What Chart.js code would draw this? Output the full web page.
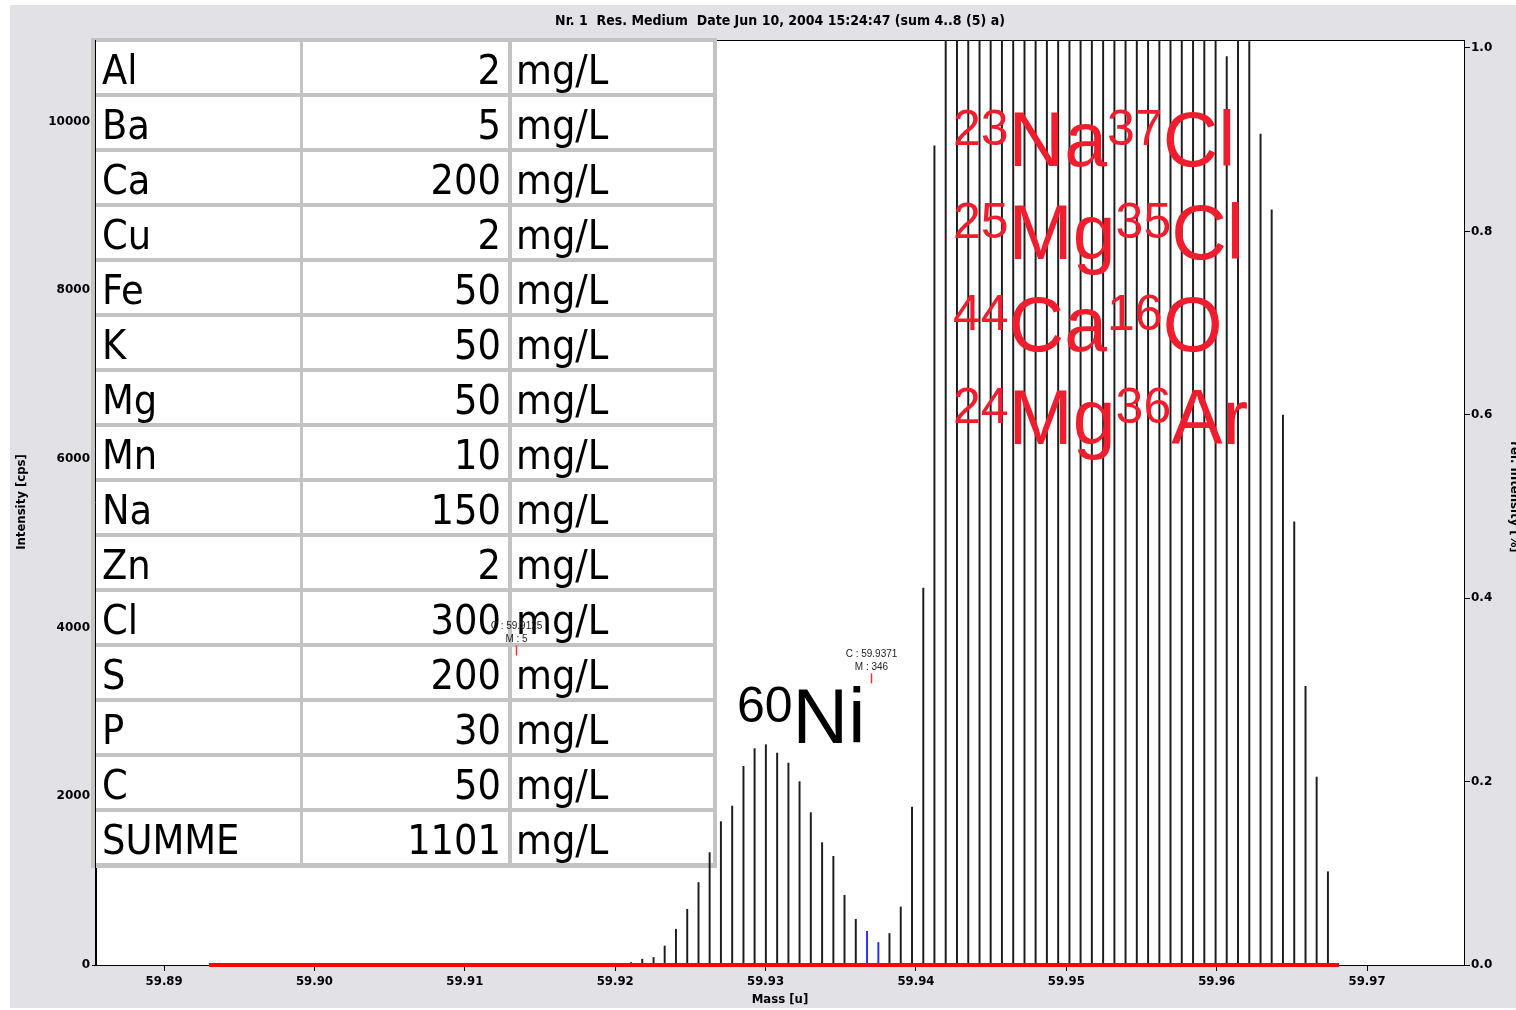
<!DOCTYPE html>
<html>
<head>
<meta charset="utf-8">
<script src="https://cdn.jsdelivr.net/npm/chart.js@4.4.1/dist/chart.umd.min.js"></script>
<style>
  html, body { margin: 0; padding: 0; background: #fff; }
  #chart { display: block; }
</style>
</head>
<body>
<canvas id="chart" width="1516" height="1010"></canvas>
<script>
// stick positions [u] and intensities [cps]
const masses = [
  59.92105, 59.92180, 59.92255, 59.92329, 59.92404, 59.92479, 59.92554, 59.92628, 59.92703, 59.92778,
  59.92853, 59.92927, 59.93002, 59.93077, 59.93152, 59.93226, 59.93301, 59.93376, 59.93451, 59.93525,
  59.93600, 59.93675, 59.93750, 59.93824, 59.93899, 59.93974, 59.94049, 59.94123, 59.94198, 59.94273,
  59.94348, 59.94423, 59.94497, 59.94572, 59.94647, 59.94722, 59.94796, 59.94871, 59.94946, 59.95021,
  59.95095, 59.95170, 59.95245, 59.95320, 59.95394, 59.95469, 59.95544, 59.95619, 59.95693, 59.95768,
  59.95843, 59.95918, 59.95993, 59.96067, 59.96142, 59.96217, 59.96292, 59.96366, 59.96441, 59.96516,
  59.96591, 59.96665, 59.96740
];
const intensities = [
  30, 69, 89, 226, 424, 661, 978, 1333, 1700, 1885,
  2356, 2566, 2613, 2513, 2395, 2174, 1807, 1451, 1289, 827,
  542, 400, 267, 373, 688, 1873, 4470, 9715, 12500, 14000,
  15500, 16800, 18000, 19000, 19800, 20400, 20800, 21000, 21000, 20800,
  20400, 19800, 19000, 18000, 17000, 16000, 15000, 14000, 13200, 12500,
  12000, 11600, 11300, 10773, 11100, 10950, 9853, 8956, 6520, 5255,
  3304, 2229, 1106
];
// sticks drawn in blue (centroid window)
const blueSticks = [21, 22];

// red integration range on the baseline
const rangeStart = 59.89299;
const rangeEnd = 59.96814;

// peak markers
const markerMass = [59.9134, 59.9370];
const markerIntensity = [3670, 3340];
const markerLines = [["C : 59.9125", "M : 5"], ["C : 59.9371", "M : 346"]];

// axes
const xTicks = [59.89, 59.90, 59.91, 59.92, 59.93, 59.94, 59.95, 59.96, 59.97];
const yTicks = [0, 2000, 4000, 6000, 8000, 10000];
const relTicks = [0, 0.2, 0.4, 0.6, 0.8, 1.0];
const xMin = 59.88547, xMax = 59.97645;
const yMax = 10969, relMax = 1.0087;

// concentration table
const elements = ["Al", "Ba", "Ca", "Cu", "Fe", "K", "Mg", "Mn", "Na", "Zn", "Cl", "S", "P", "C", "SUMME"];
const concentrations = ["2", "5", "200", "2", "50", "50", "50", "10", "150", "2", "300", "200", "30", "50", "1101"];
const unit = "mg/L";

// interferences: [mass number, symbol, mass number, symbol]
const interferences = [
  ["23", "Na", "37", "Cl"],
  ["25", "Mg", "35", "Cl"],
  ["44", "Ca", "16", "O"],
  ["24", "Mg", "36", "Ar"]
];

const NARROW = '"Liberation Sans Narrow", "Arial Narrow", "DejaVu Sans Condensed", sans-serif';
const WIDE = '"DejaVu Sans", Verdana, sans-serif';
const ARIAL = '"Liberation Sans", Arial, sans-serif';
const TABLE_FONT = '"DejaVu Sans Condensed", Tahoma, "Noto Sans", sans-serif';

function drawIsotope(ctx, x, y, parts, color) {
  ctx.fillStyle = color;
  ctx.textAlign = "left";
  ctx.textBaseline = "alphabetic";
  parts.forEach((p, i) => {
    if (i % 2 === 0) {
      ctx.font = "50px " + ARIAL;
      ctx.fillText(p, x, y - 21);
    } else {
      ctx.font = "77px " + ARIAL;
      ctx.fillText(p, x, y);
    }
    x += ctx.measureText(p).width;
  });
}

const decor = {
  id: "decor",
  beforeDraw(chart) {
    const { ctx, chartArea: a } = chart;
    ctx.save();
    ctx.fillStyle = "#fff";
    ctx.fillRect(0, 0, chart.width, chart.height);
    ctx.fillStyle = "#e1e1e6";
    ctx.fillRect(10, 5, chart.width - 10, 1003);
    ctx.fillStyle = "#fff";
    ctx.fillRect(a.left, a.top, a.right - a.left, a.bottom - a.top);
    ctx.strokeStyle = "#000";
    ctx.lineWidth = 1;
    ctx.beginPath();
    ctx.moveTo(a.left, a.top + 0.5);
    ctx.lineTo(a.right, a.top + 0.5);
    ctx.stroke();
    ctx.restore();
  },
  beforeDatasetsDraw(chart) {
    const { ctx, chartArea: a } = chart;
    ctx.save();
    // table
    const left = 91, top = 38, pitch = 55;
    const cols = [[96, 300], [303, 508], [512, 713]];
    ctx.fillStyle = "#c3c3c3";
    ctx.fillRect(left, top, 717 - left, pitch * elements.length + 5);
    ctx.font = "41px " + TABLE_FONT;
    ctx.textBaseline = "alphabetic";
    elements.forEach((el, i) => {
      const y0 = top + 4 + pitch * i;
      ctx.fillStyle = "#fff";
      cols.forEach(c => ctx.fillRect(c[0], y0, c[1] - c[0], 51));
      ctx.fillStyle = "#000";
      ctx.textAlign = "left";
      ctx.fillText(el, 102, y0 + 42);
      ctx.textAlign = "right";
      ctx.fillText(concentrations[i], 501, y0 + 42);
      ctx.textAlign = "left";
      ctx.fillText(unit, 516, y0 + 42);
    });
    // left axis line stays visible over the table
    ctx.strokeStyle = "#000";
    ctx.lineWidth = 1;
    ctx.beginPath();
    ctx.moveTo(a.left - 0.5, a.top);
    ctx.lineTo(a.left - 0.5, a.bottom);
    ctx.stroke();
    ctx.restore();
  },
  afterDatasetsDraw(chart) {
    const { ctx } = chart;
    const xs = chart.scales.x, ys = chart.scales.y;
    ctx.save();
    interferences.forEach((parts, i) => drawIsotope(ctx, 953, 166 + 92.7 * i, parts, "#ef1d2d"));
    drawIsotope(ctx, 737, 743, ["60", "Ni"], "#000");

    markerMass.forEach((m, i) => {
      const px = Math.round(xs.getPixelForValue(m)) + 0.5;
      const py = ys.getPixelForValue(markerIntensity[i]);
      ctx.strokeStyle = "#ff3030";
      ctx.lineWidth = 1.5;
      ctx.beginPath();
      ctx.moveTo(px, py);
      ctx.lineTo(px, py - 10);
      ctx.stroke();
      ctx.fillStyle = "#222";
      ctx.font = "10px " + ARIAL;
      ctx.textAlign = "center";
      ctx.textBaseline = "middle";
      ctx.fillText(markerLines[i][0], px, py - 29);
      ctx.fillText(markerLines[i][1], px, py - 16);
    });
    ctx.restore();
  },
  afterDraw(chart) {
    const { ctx, chartArea: a } = chart;
    ctx.save();
    ctx.fillStyle = "#000";
    ctx.textBaseline = "middle";
    ctx.textAlign = "center";
    ctx.font = "bold 14px " + NARROW;
    ctx.fillText("Nr. 1  Res. Medium  Date Jun 10, 2004 15:24:47 (sum 4..8 (5) a)", (a.left + a.right) / 2, 21);
    ctx.font = "bold 13px " + NARROW;
    ctx.fillText("Mass [u]", (a.left + a.right) / 2, 1000);
    ctx.save();
    ctx.translate(22, 502);
    ctx.rotate(-Math.PI / 2);
    ctx.fillText("Intensity [cps]", 0, 0);
    ctx.restore();
    ctx.save();
    ctx.translate(1511, 497);
    ctx.rotate(Math.PI / 2);
    ctx.textBaseline = "alphabetic";
    ctx.fillText("rel. Intensity [%]", 0, 0);
    ctx.restore();
    ctx.restore();
  }
};

const ctx = document.getElementById("chart").getContext("2d");
new Chart(ctx, {
  type: "bar",
  data: {
    datasets: [
      {
        type: "line",
        data: [{ x: rangeStart, y: 0 }, { x: rangeEnd, y: 0 }],
        borderColor: "#ff0000",
        borderWidth: 4,
        pointRadius: 0,
        clip: false,
        order: 0,
        yAxisID: "y"
      },
      {
        data: masses.map((m, i) => ({ x: m, y: intensities[i] })),
        backgroundColor: masses.map((_, i) => blueSticks.includes(i) ? "#2b2bff" : "#1c1c1c"),
        barThickness: 1.3,
        borderWidth: 0,
        order: 1,
        yAxisID: "y"
      }
    ]
  },
  options: {
    responsive: false,
    animation: false,
    devicePixelRatio: 1,
    layout: { padding: { top: 40, left: 0, right: 0, bottom: 0 } },
    plugins: { legend: { display: false }, tooltip: { enabled: false }, title: { display: false } },
    scales: {
      x: {
        type: "linear",
        min: xMin,
        max: xMax,
        offset: false,
        afterBuildTicks: s => { s.ticks = xTicks.map(v => ({ value: v })); },
        afterFit: s => { s.height = 45; },
        grid: { drawOnChartArea: false, drawTicks: true, tickLength: 6, color: "#000", offset: false },
        border: { display: true, color: "#000", width: 1 },
        ticks: {
          color: "#000",
          padding: 3,
          maxRotation: 0,
          autoSkip: false,
          font: { family: NARROW, size: 13, weight: "bold" },
          callback: v => Number(v).toFixed(2)
        }
      },
      y: {
        position: "left",
        min: 0,
        max: yMax,
        afterBuildTicks: s => { s.ticks = yTicks.map(v => ({ value: v })); },
        afterFit: s => { s.width = 96; },
        grid: { drawOnChartArea: false, drawTicks: true, tickLength: 4, color: "#000" },
        border: { display: true, color: "#000", width: 1 },
        ticks: {
          color: "#000",
          padding: 2,
          font: { family: WIDE, size: 12, weight: "bold" },
          callback: v => String(v)
        }
      },
      rel: {
        position: "right",
        min: 0,
        max: relMax,
        afterBuildTicks: s => { s.ticks = relTicks.map(v => ({ value: v })); },
        afterFit: s => { s.width = 52; },
        grid: { drawOnChartArea: false, drawTicks: true, tickLength: 6, color: "#000" },
        border: { display: true, color: "#000", width: 1 },
        ticks: {
          color: "#000",
          padding: 1,
          font: { family: WIDE, size: 12, weight: "bold" },
          callback: v => Number(v).toFixed(1)
        }
      }
    }
  },
  plugins: [decor]
});
</script>
</body>
</html>
